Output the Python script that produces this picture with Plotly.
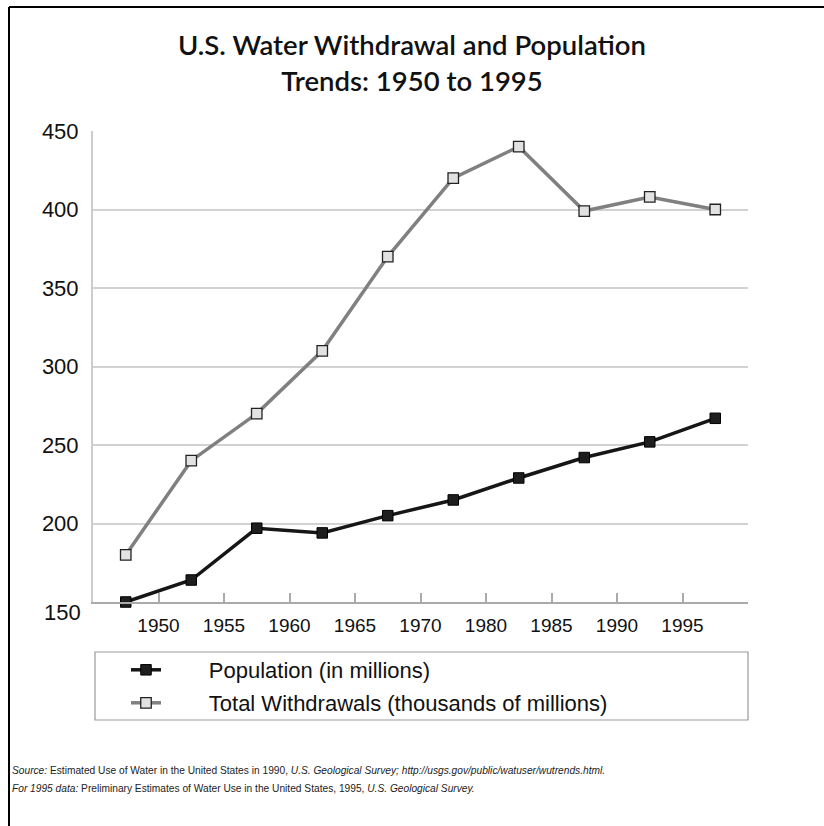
import plotly.graph_objects as go

# U.S. water withdrawal and population series
x_labels = ["1950", "1955", "1960", "1965", "1970", "1980", "1985", "1990", "1995"]
population = [150, 164, 197, 194, 205, 215, 229, 242, 252, 267]
withdrawals = [180, 240, 270, 310, 370, 420, 440, 399, 408, 400]
y_ticks = [200, 250, 300, 350, 400, 450]
series_names = ["Population (in millions)", "Total Withdrawals (thousands of millions)"]

W, H = 824, 826
L, R, T, B = 93, 76, 131, 224
PW, PH = W - L - R, H - T - B


def px(xp):
    return (xp - L) / PW


def py(yp):
    return (H - B - yp) / PH


positions = list(range(len(population)))
tick_pos = [i + 0.5 for i in positions]
tick_txt = x_labels + [""]

# legend labels sit well to the right of their short key lines
pad = "\u00a0" * 7

fig = go.Figure()
fig.add_trace(go.Scatter(
    x=positions, y=population, mode="lines+markers",
    name=pad + series_names[0],
    line=dict(color="#161616", width=3.5),
    marker=dict(symbol="square", size=10.5, color="#1e1e1e",
                line=dict(color="#000000", width=1)),
    cliponaxis=False, legend="legend",
))
fig.add_trace(go.Scatter(
    x=positions, y=withdrawals, mode="lines+markers",
    name=pad + series_names[1],
    line=dict(color="#808080", width=3.5),
    marker=dict(symbol="square", size=10.5, color="#e2e2e2",
                line=dict(color="#222222", width=1.3)),
    cliponaxis=False, legend="legend2",
))

axis_font = dict(family="Liberation Sans, Arial, sans-serif", color="#111111")

fig.update_layout(
    width=W, height=H,
    margin=dict(l=L, r=R, t=T, b=B),
    paper_bgcolor="white", plot_bgcolor="white",
    showlegend=True,
    xaxis=dict(
        range=[-0.5, len(population) - 0.5],
        tickmode="array", tickvals=tick_pos, ticktext=tick_txt,
        ticks="inside", ticklen=9, tickwidth=1.5, tickcolor="#aaaaaa",
        showline=True, linecolor="#aaaaaa", linewidth=1.5,
        showgrid=False, zeroline=False,
        tickfont=dict(size=19, **axis_font), ticklabelstandoff=5,
    ),
    yaxis=dict(
        range=[150, 450],
        tickmode="array", tickvals=y_ticks,
        showgrid=True, gridcolor="#d2d2d2", gridwidth=2,
        showline=True, linecolor="#cccccc", linewidth=2,
        zeroline=False, ticks="",
        tickfont=dict(size=22, **axis_font), ticklabelstandoff=8,
    ),
    legend=dict(
        x=px(126), y=py(670), xanchor="left", yanchor="middle",
        bgcolor="rgba(0,0,0,0)", borderwidth=0,
        font=dict(size=22, **axis_font),
    ),
    legend2=dict(
        x=px(126), y=py(703), xanchor="left", yanchor="middle",
        bgcolor="rgba(0,0,0,0)", borderwidth=0,
        font=dict(size=22, **axis_font),
    ),
)

# page frame (top and left rules)
fig.add_shape(type="line", xref="paper", yref="paper",
              x0=px(9), x1=px(824), y0=py(7), y1=py(7),
              line=dict(color="#000000", width=2))
fig.add_shape(type="line", xref="paper", yref="paper",
              x0=px(9), x1=px(9), y0=py(7), y1=py(826),
              line=dict(color="#000000", width=2))
# legend box
fig.add_shape(type="rect", xref="paper", yref="paper",
              x0=px(95), x1=px(748), y0=py(720), y1=py(652),
              line=dict(color="#999999", width=1.2))

# title
fig.add_annotation(
    xref="paper", yref="paper", x=px(412), y=py(62),
    xanchor="center", yanchor="middle", showarrow=False,
    text="U.S. Water Withdrawal and Population<br>Trends: 1950 to 1995",
    font=dict(family="Lato, sans-serif", size=27.5, weight=600, color="#111111"),
)

# lowest y tick label, set below its rule
fig.add_annotation(
    xref="paper", yref="paper", x=px(83), y=py(612),
    xanchor="right", yanchor="middle", showarrow=False,
    text="150", font=dict(size=22, **axis_font),
)

# source notes
src_font = dict(family="Liberation Sans, Arial, sans-serif", size=10.2, color="#222222")
fig.add_annotation(
    xref="paper", yref="paper", x=px(10), y=py(770),
    xanchor="left", yanchor="middle", showarrow=False, align="left",
    text="<i>Source:</i> Estimated Use of Water in the United States in 1990, "
         "<i>U.S. Geological Survey; http://usgs.gov/public/watuser/wutrends.html.</i>",
    font=src_font,
)
fig.add_annotation(
    xref="paper", yref="paper", x=px(10), y=py(788),
    xanchor="left", yanchor="middle", showarrow=False, align="left",
    text="<i>For 1995 data:</i> Preliminary Estimates of Water Use in the United States, 1995, "
         "<i>U.S. Geological Survey.</i>",
    font=src_font,
)

fig.write_html("out.html")
